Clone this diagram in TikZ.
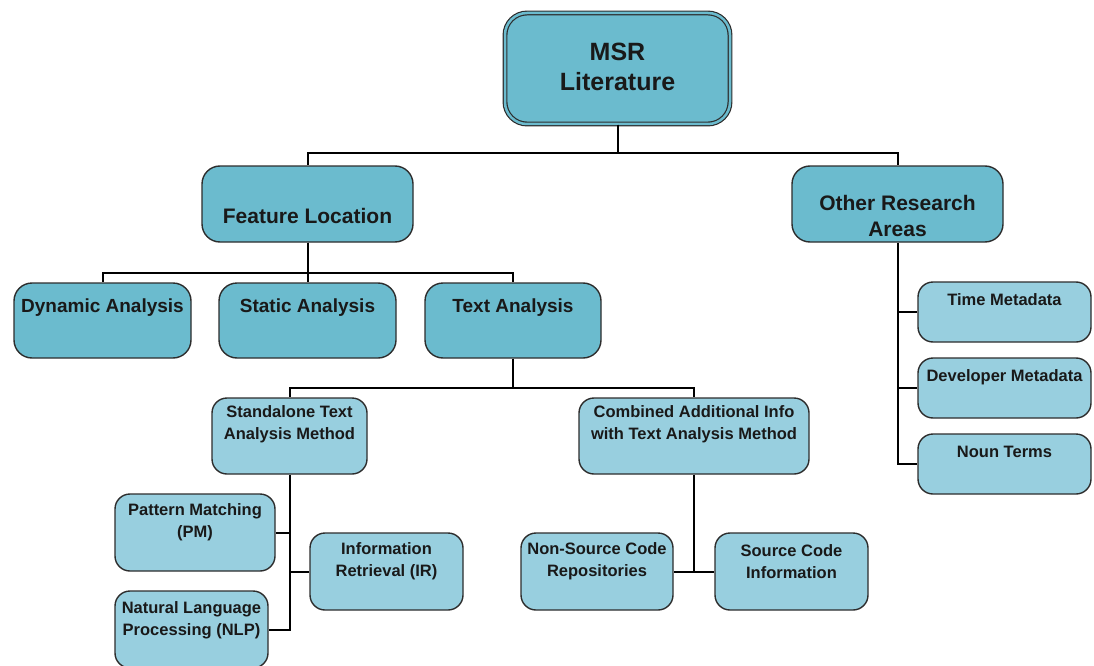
\documentclass[tikz,border=0pt]{standalone}
\usepackage{fontspec}
\setmainfont{Liberation Sans}
\definecolor{boxdark}{RGB}{107,187,206}
\definecolor{boxlight}{RGB}{152,207,223}
\definecolor{edgecol}{RGB}{45,45,45}
\tikzset{
  basebox/.style={draw=edgecol, line width=1.4pt, rounded corners=18pt, inner sep=0pt},
  dbox/.style={basebox, fill=boxdark},
  lbox/.style={basebox, fill=boxlight, rounded corners=15pt},
  txt/.style={font=\bfseries, align=center, inner sep=0pt, text=black!90},
  conn/.style={line width=2pt, black}
}
\begin{document}
\begin{tikzpicture}[x=1pt,y=-1pt]
\useasboundingbox (0,0) rectangle (1094,666);
% boxes
\node[dbox, minimum width=225pt, minimum height=111pt, double=boxdark, double distance=2.5pt, line width=1.2pt, rounded corners=22pt] (msr) at (617.5,68.5) {};
\node[dbox, minimum width=211pt, minimum height=76pt] (fl) at (307.5,204) {};
\node[dbox, minimum width=211pt, minimum height=76pt] (ora) at (897.5,204) {};
\node[dbox, minimum width=177pt, minimum height=75pt] (da) at (102.5,320.5) {};
\node[dbox, minimum width=177pt, minimum height=75pt] (sa) at (307.5,320.5) {};
\node[dbox, minimum width=176pt, minimum height=75pt] (ta) at (513,320.5) {};
\node[lbox, minimum width=155pt, minimum height=76pt] (stm) at (289.5,436) {};
\node[lbox, minimum width=230pt, minimum height=76pt] (cai) at (694,436) {};
\node[lbox, minimum width=160pt, minimum height=77pt] (pm) at (195,532.5) {};
\node[lbox, minimum width=153pt, minimum height=77pt] (ir) at (386.5,571.5) {};
\node[lbox, minimum width=153pt, minimum height=77pt] (nlp) at (191.5,629.5) {};
\node[lbox, minimum width=152pt, minimum height=77pt] (ns) at (597,571.5) {};
\node[lbox, minimum width=153pt, minimum height=77pt] (sc) at (791.5,571.5) {};
\node[lbox, minimum width=173pt, minimum height=60pt] (tm) at (1004.5,312) {};
\node[lbox, minimum width=173pt, minimum height=60pt] (dm) at (1004.5,388) {};
\node[lbox, minimum width=173pt, minimum height=60pt] (nt) at (1004.5,464) {};
% texts
\node[txt, font=\bfseries\fontsize{25}{30}\selectfont] (msrt) at (617.5,67) {MSR\\Literature};
\node[txt, font=\bfseries\fontsize{21}{26}\selectfont] (flt) at (307.5,216) {Feature Location};
\node[txt, font=\bfseries\fontsize{21}{26}\selectfont] (orat) at (897.5,216) {Other Research\\Areas};
\node[txt, font=\bfseries\fontsize{19}{23}\selectfont] (dat) at (102.5,308) {Dynamic Analysis};
\node[txt, font=\bfseries\fontsize{19}{23}\selectfont] (sat) at (307.5,308) {Static Analysis};
\node[txt, font=\bfseries\fontsize{19}{23}\selectfont] (tat) at (513,308) {Text Analysis};
\node[txt, font=\bfseries\fontsize{16.5}{22}\selectfont] (stmt) at (289.5,424) {Standalone Text\\Analysis Method};
\node[txt, font=\bfseries\fontsize{16.5}{22}\selectfont] (cait) at (694,424) {Combined Additional Info\\with Text Analysis Method};
\node[txt, font=\bfseries\fontsize{16.5}{22}\selectfont] (pmt) at (195,522.5) {Pattern Matching\\(PM)};
\node[txt, font=\bfseries\fontsize{16.5}{22}\selectfont] (irt) at (386.5,561.5) {Information\\Retrieval (IR)};
\node[txt, font=\bfseries\fontsize{16.5}{22}\selectfont] (nlpt) at (191.5,620) {Natural Language\\Processing (NLP)};
\node[txt, font=\bfseries\fontsize{16.5}{22}\selectfont] (nst) at (597,561.5) {Non-Source Code\\Repositories};
\node[txt, font=\bfseries\fontsize{16.5}{22}\selectfont] (sct) at (791.5,561.5) {Source Code\\Information};
\node[txt, font=\bfseries\fontsize{16.5}{22}\selectfont] (tmt) at (1004.5,300) {Time Metadata};
\node[txt, font=\bfseries\fontsize{16.5}{22}\selectfont] (dmt) at (1004.5,377) {Developer Metadata};
\node[txt, font=\bfseries\fontsize{16.5}{22}\selectfont] (ntt) at (1004.5,452) {Noun Terms};
% connectors
\draw[conn] (msr.south) -- ++(0,28) -| (fl.north);
\draw[conn] (msr.south) -- ++(0,28) -| (ora.north);
\draw[conn] (fl.south) -- ++(0,30) -| (da.north);
\draw[conn] (fl.south) -- (sa.north);
\draw[conn] (fl.south) -- ++(0,30) -| (ta.north);
\draw[conn] (ta.south) -- ++(0,29) -| (stm.north);
\draw[conn] (ta.south) -- ++(0,29) -| (cai.north);
\draw[conn] (stm.south) |- (nlp.east);
\draw[conn] (stm.south |- pm.east) -- (pm.east);
\draw[conn] (stm.south |- ir.west) -- (ir.west);
\draw[conn] (cai.south) |- (ns.east);
\draw[conn] (cai.south |- sc.west) -- (sc.west);
\draw[conn] (ora.south) |- (nt.west);
\draw[conn] (ora.south |- tm.west) -- (tm.west);
\draw[conn] (ora.south |- dm.west) -- (dm.west);
\end{tikzpicture}
\end{document}
